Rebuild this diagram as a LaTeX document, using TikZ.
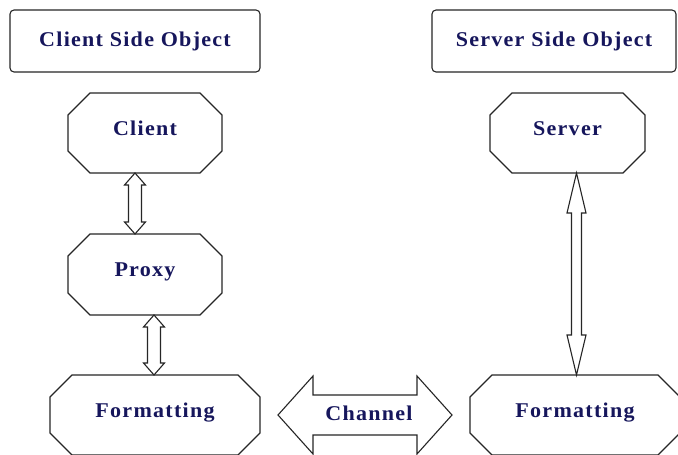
\documentclass[tikz,border=0pt]{standalone}
\usepackage{fontspec}
\newfontfamily\lblfont{Liberation Serif}[FakeStretch=1.05,LetterSpace=6]
\usetikzlibrary{calc}
\definecolor{navy}{RGB}{22,22,92}
\newcommand\octo[2]{%
  \draw[shapeline] ($(#1.north west)+(#2,0)$) -- ($(#1.north east)+(-#2,0)$) -- ($(#1.north east)+(0,#2)$) -- ($(#1.south east)+(0,-#2)$) -- ($(#1.south east)+(-#2,0)$) -- ($(#1.south west)+(#2,0)$) -- ($(#1.south west)+(0,-#2)$) -- ($(#1.north west)+(0,#2)$) -- cycle;}
% vertical two-headed block arrow: #1 top tip, #2 bottom tip, #3 shaft half, #4 head half, #5 head length
\newcommand\udarrow[5]{%
  \draw[shapeline] let \p1=(#1), \p2=(#2) in (\x1,\y1) -- (\x1+#4,\y1-#5) -- (\x1+#3,\y1-#5) -- (\x1+#3,\y2+#5) -- (\x1+#4,\y2+#5) -- (\x1,\y2) -- (\x1-#4,\y2+#5) -- (\x1-#3,\y2+#5) -- (\x1-#3,\y1-#5) -- (\x1-#4,\y1-#5) -- cycle;}
% horizontal two-headed block arrow: #1 left tip, #2 right tip
\newcommand\lrarrow[5]{%
  \draw[shapeline] let \p1=(#1), \p2=(#2) in (\x1,\y1) -- (\x1+#5,\y1+#4) -- (\x1+#5,\y1+#3) -- (\x2-#5,\y1+#3) -- (\x2-#5,\y1+#4) -- (\x2,\y1) -- (\x2-#5,\y1-#4) -- (\x2-#5,\y1-#3) -- (\x1+#5,\y1-#3) -- (\x1+#5,\y1-#4) -- cycle;}
\begin{document}
\begin{tikzpicture}[x=1pt,y=-1pt,
  shapeline/.style={draw=black!85,line width=1.1pt,line join=miter},
  lbl/.style={font=\lblfont\bfseries\fontsize{21}{24}\selectfont,text=navy},
  hdr/.style={lbl,draw=black!85,line width=1.1pt,rounded corners=4pt,inner sep=0pt,outer sep=0pt},
  octbox/.style={lbl,inner sep=0pt,outer sep=0pt,text height=14pt,text depth=10pt}]
\useasboundingbox (0,0) rectangle (678,455);
\fill[white] (0,0) rectangle (678,455);

\node[hdr,minimum width=250pt,minimum height=62pt] (clientside) at (135,41) {Client Side Object};
\node[hdr,minimum width=244pt,minimum height=62pt] (serverside) at (554,41) {Server Side Object};

\node[octbox,minimum width=154pt,minimum height=80pt] (client) at (145,133) {Client};
\node[octbox,minimum width=154pt,minimum height=81pt] (proxy) at (145,274.5) {Proxy};
\node[octbox,minimum width=210pt,minimum height=80pt] (fmtL) at (155,415) {Formatting};
\node[octbox,minimum width=155pt,minimum height=80pt] (server) at (567.5,133) {Server};
\node[octbox,minimum width=210pt,minimum height=80pt] (fmtR) at (575,415) {Formatting};

\octo{client}{22}
\octo{proxy}{22}
\octo{fmtL}{22}
\octo{server}{22}
\octo{fmtR}{22}

\coordinate (cpT) at ($(client.south)+(-10,0)$);
\coordinate (cpB) at ($(proxy.north)+(-10,0)$);
\udarrow{cpT}{cpB}{6.5pt}{10.5pt}{12pt}

\coordinate (pfT) at ($(proxy.south)+(9,0)$);
\coordinate (pfB) at ($(fmtL.north)+(0,0)$);
\udarrow{pfT}{pfB}{6.5pt}{10.5pt}{12pt}

\coordinate (sfT) at ($(server.south)+(9,0)$);
\coordinate (sfB) at ($(fmtR.north)+(0,0)$);
\udarrow{sfT}{sfB}{5pt}{9.5pt}{40pt}

\coordinate (chL) at ($(fmtL.east)+(18,0)$);
\coordinate (chR) at ($(fmtR.west)+(-18,0)$);
\lrarrow{chL}{chR}{20pt}{39pt}{35pt}
\node[lbl,inner sep=0pt] (channel) at ($(chL)!0.5!(chR)+(4,-2)$) {Channel};
\end{tikzpicture}
\end{document}
